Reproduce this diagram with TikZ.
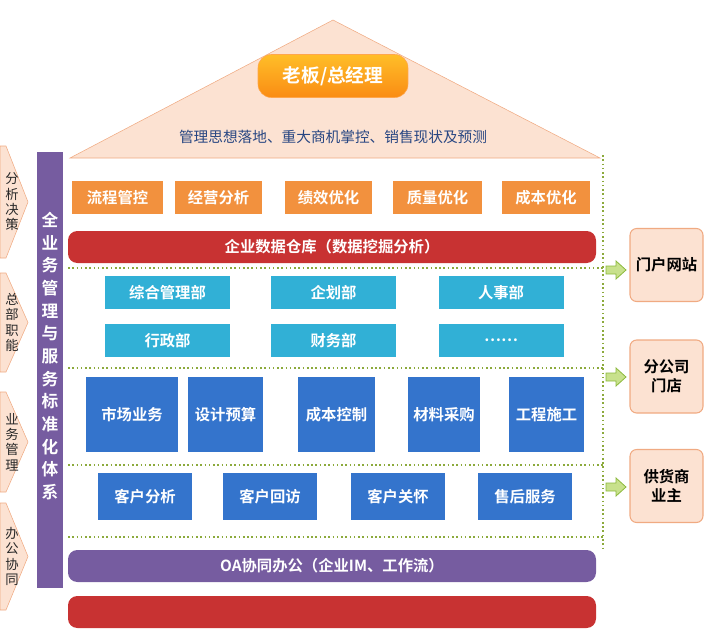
\documentclass[tikz,border=0pt]{standalone}
\usepackage{fontspec}
\setmainfont{Noto Sans CJK SC}
\newfontfamily\cjkb{Noto Sans CJK SC Bold}
\begin{document}
\begin{tikzpicture}[x=0.75pt,y=-0.75pt,
  lbl/.style={font=\cjkb\fontsize{11.5}{13}\selectfont,text=white,align=center},
  bx/.style={lbl},
  orangebox/.style={fill=orangec},
  cyanbox/.style={fill=cyanc},
  bluebox/.style={fill=bluec},
  peach/.style={fill=peachc,draw=peachd,line width=0.8pt,rounded corners=5pt},
  dots/.style={draw=greenc,dotted,line width=1.2pt},
  garrow/.style={fill=garrowc,draw=garrowd,line width=0.6pt},
  side/.style={font=\fontsize{10}{11.5}\selectfont,text=darktxt,align=center}]
\definecolor{orangec}{RGB}{242,145,62}
\definecolor{cyanc}{RGB}{49,176,214}
\definecolor{bluec}{RGB}{52,116,204}
\definecolor{redc}{RGB}{200,50,50}
\definecolor{purplec}{RGB}{118,92,160}
\definecolor{peachc}{RGB}{252,226,210}
\definecolor{peachd}{RGB}{240,170,130}
\definecolor{greenc}{RGB}{140,170,60}
\definecolor{garrowc}{RGB}{200,225,140}
\definecolor{garrowd}{RGB}{140,185,60}
\definecolor{darktxt}{RGB}{40,40,40}
\definecolor{navy}{RGB}{40,70,130}
\definecolor{bossa}{RGB}{255,190,40}
\definecolor{bossb}{RGB}{250,140,20}
\useasboundingbox (0,0) rectangle (706,629);
% roof
\fill[peachc,draw=peachd] (70,158) -- (333,20) -- (600,158) -- cycle;
\node[rounded corners=10pt,top color=bossa,bottom color=bossb,draw=orange!70,minimum width=150*0.75pt,minimum height=43*0.75pt,font=\cjkb\fontsize{14}{16}\selectfont,text=white] (boss) at (333,76) {老板/总经理};
\node[font=\fontsize{11}{13}\selectfont,text=navy] (roofT) at (333,137) {管理思想落地、重大商机掌控、销售现状及预测};
% purple vertical
\node[fill=purplec,minimum width=26*0.75pt,minimum height=436*0.75pt,inner sep=0pt] (vbar) at (50,370) {};
\node[lbl,font=\cjkb\fontsize{12.5}{17}\selectfont] (vtext) at (50,356) {全\\业\\务\\管\\理\\与\\服\\务\\标\\准\\化\\体\\系};
% left chevrons
\foreach \n/\ya/\yb/\t in {a/146/258/分\\析\\决\\策, b/273/372/总\\部\\职\\能, c/392/492/业\\务\\管\\理, d/503/610/办\\公\\协\\同}{
  \path[fill=peachc,draw=peachd] (0,\ya) -- (6,\ya) -- (28,{(\ya+\yb)/2}) -- (6,\yb) -- (0,\yb) -- cycle;
  \node[side] (L\n) at (12,{(\ya+\yb)/2}) {\t};
}
% dotted lines
\foreach \y in {268,368,465,537} \draw[dots] (68,\y) -- (603,\y);
\draw[dots] (603,155) -- (603,548);
% orange row
\foreach \n/\xa/\xb/\t in {o1/72/163/流程管控,o2/175/262/经营分析,o3/285/372/绩效优化,o4/393/482/质量优化,o5/502/590/成本优化}
  \node[bx,orangebox,minimum width={(\xb-\xa)*0.75pt},minimum height=33*0.75pt] (\n) at ({(\xa+\xb)/2},197.5) {\t};
\node[bx,fill=redc,rounded corners=7pt,minimum width=528*0.75pt,minimum height=32*0.75pt] (dw) at (332,247) {企业数据仓库（数据挖掘分析）};
% cyan rows
\foreach \n/\x/\y/\t in {c1/167.5/292.5/综合管理部,c2/333.5/292.5/企划部,c3/501/292.5/人事部,c4/167.5/340.5/行政部,c5/333.5/340.5/财务部,c6/501/340.5/……}
  \node[bx,cyanbox,minimum width=125*0.75pt,minimum height=33*0.75pt] (\n) at (\x,\y) {\t};
% blue rows
\foreach \n/\xa/\xb/\t in {b1/86/178/市场业务,b2/188/263/设计预算,b3/298/375/成本控制,b4/408/480/材料采购,b5/509/584/工程施工}
  \node[bx,bluebox,minimum width={(\xb-\xa)*0.75pt},minimum height=75*0.75pt] (\n) at ({(\xa+\xb)/2},414.5) {\t};
\foreach \n/\xa/\t in {k1/98/客户分析,k2/223/客户回访,k3/351/客户关怀,k4/478/售后服务}
  \node[bx,bluebox,minimum width=94*0.75pt,minimum height=47*0.75pt] (\n) at ({\xa+47},496.5) {\t};
\node[bx,fill=purplec,rounded corners=7pt,minimum width=528*0.75pt,minimum height=32*0.75pt] (oa) at (332,566) {OA协同办公（企业IM、工作流）};
\node[fill=redc,rounded corners=7pt,minimum width=528*0.75pt,minimum height=32*0.75pt] (base) at (332,612) {};
% right boxes
\foreach \n/\y/\t in {r1/265/门户网站,r2/376.5/分公司\\门店,r3/486/供货商\\业主}{
  \node[peach,minimum width=73*0.75pt,minimum height=73*0.75pt,font=\cjkb\fontsize{11.5}{14}\selectfont,text=black,align=center] (\n) at (666.5,\y) {\t};
}
\foreach \y in {270,377,487}
  \path[garrow] (606,\y-4) -- (616,\y-4) -- (616,\y-9) -- (626,\y) -- (616,\y+9) -- (616,\y+4) -- (606,\y+4) -- cycle;
\end{tikzpicture}
\end{document}
